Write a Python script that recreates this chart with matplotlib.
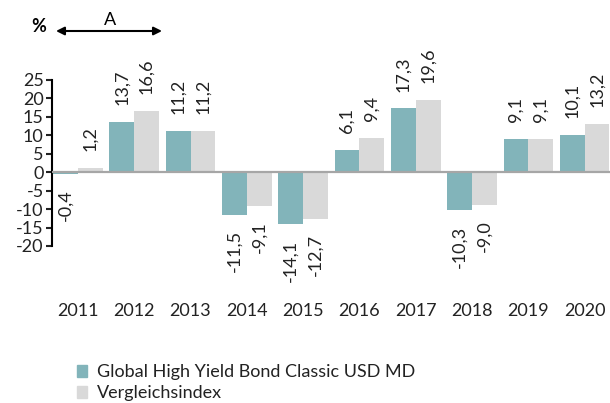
import matplotlib.pyplot as plt
from matplotlib.patches import Patch
import numpy as np

plt.rcParams['font.family'] = ['Lato', 'DejaVu Sans']
plt.rcParams['axes.unicode_minus'] = False

years = ['2011', '2012', '2013', '2014', '2015', '2016', '2017', '2018', '2019', '2020']
fund = [-0.4, 13.7, 11.2, -11.5, -14.1, 6.1, 17.3, -10.3, 9.1, 10.1]
bench = [1.2, 16.6, 11.2, -9.1, -12.7, 9.4, 19.6, -9.0, 9.1, 13.2]
names = ['Global High Yield Bond Classic USD MD', 'Vergleichsindex']

teal = '#82b4ba'
grey = '#d9d9d9'
txt = '#222222'

fig = plt.figure(figsize=(6.1, 4.03), dpi=100)
ax = fig.add_axes([52/610, 1-246/403, 1-52/610, (246-80)/403])

x = np.arange(len(years))
w = 0.44
ax.bar(x - w/2, fund, w, color=teal, zorder=2)
ax.bar(x + w/2, bench, w, color=grey, zorder=2)
ax.axhline(0, color='#a6a6a6', lw=1.6, zorder=3)

def fmt(v):
    return ('%.1f' % v).replace('.', ',')

for xs, vals in ((x - w/2, fund), (x + w/2, bench)):
    for xi, v in zip(xs, vals):
        if v >= 0:
            ax.annotate(fmt(v), (xi, v), xytext=(0, 12), textcoords='offset points',
                        rotation=90, ha='center', va='bottom', fontsize=13,
                        color=txt, annotation_clip=False)
        else:
            ax.annotate(fmt(v), (xi, v), xytext=(0, -11), textcoords='offset points',
                        rotation=90, ha='center', va='top', fontsize=13,
                        color=txt, annotation_clip=False)

ax.set_xlim(-0.46, 9.45)
ax.set_ylim(-20, 25)
ax.set_yticks(range(-20, 30, 5))
ax.set_xticks(x)
ax.set_xticklabels(years)
ax.tick_params(axis='x', length=0, pad=41, labelsize=13, colors=txt)
ax.tick_params(axis='y', length=4, width=1.5, pad=2, labelsize=13, colors=txt)
for s in ('top', 'right', 'bottom'):
    ax.spines[s].set_visible(False)
ax.spines['left'].set_linewidth(1.5)
ax.spines['left'].set_color('black')

fig.text(39/610, 1-27/403, '%', fontsize=13, fontweight='bold', ha='center', va='center')
fig.text(110/610, 1-20/403, 'A', fontsize=13, ha='center', va='center')
ax.annotate('', xy=(162/610, 1-31/403), xytext=(56/610, 1-31/403),
            xycoords='figure fraction', textcoords='figure fraction',
            arrowprops=dict(arrowstyle='<|-|>', color='black', lw=1.5,
                            mutation_scale=12, shrinkA=0, shrinkB=0))

handles = [Patch(color=teal), Patch(color=grey)]
fig.legend(handles, names, loc='upper left', bbox_to_anchor=(70/610, 1-357/403),
           frameon=False, fontsize=13, handlelength=0.55, handleheight=0.6,
           handletextpad=0.55, labelspacing=0.28, borderaxespad=0, labelcolor=txt)

fig.savefig('out.png', dpi=100)
